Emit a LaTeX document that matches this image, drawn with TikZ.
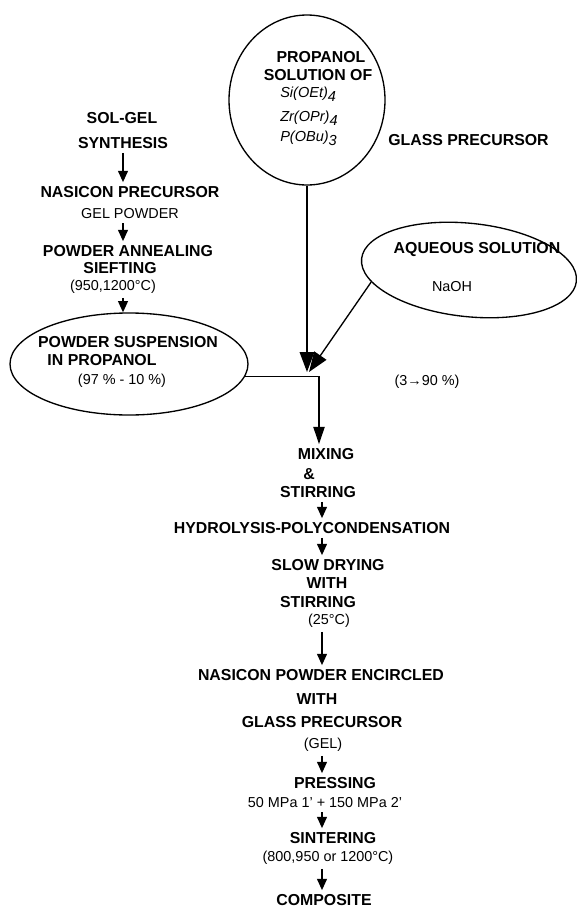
\documentclass[tikz,border=0pt]{standalone}
\usepackage{fontspec}
\setmainfont{Liberation Sans}
\usetikzlibrary{arrows.meta, shapes.geometric, positioning}

\newcommand\chemidx[1]{\raisebox{-3.5pt}{#1}}

\tikzset{
    boldtxt/.style={font=\bfseries\fontsize{11.9}{14}\selectfont, inner sep=3pt},
    thintxt/.style={font=\fontsize{10.8}{13}\selectfont, inner sep=3pt},
    chem/.style={font=\itshape\fontsize{10.9}{13}\selectfont, inner sep=0pt, anchor=base west},
    blob/.style={draw, ellipse, line width=1pt, inner sep=0pt},
    arr/.style={line width=1pt, -{Triangle[length=8.5pt, width=7.5pt]}},
    midarr/.style={line width=1pt, -{Triangle[length=13pt, width=8.5pt]}},
    bigarr/.style={line width=1pt, -{Triangle[length=15pt, width=11pt]}},
}

\begin{document}
\begin{tikzpicture}[x=0.75pt, y=-0.75pt]
        \useasboundingbox (0,0) rectangle (577,907);
        \coordinate (lcol) at (123,0);
        \coordinate (col) at (322,0);
        \coordinate (corner) at (319,376);
        \coordinate (tip) at (309,372);

        % sol-gel route
        \node[boldtxt] (solgel) at (122,118) {SOL-GEL};
        \node[boldtxt] (synth) at (123,143) {SYNTHESIS};
        \node[boldtxt] (nasp) at (130,192) {NASICON PRECURSOR};
        \node[thintxt] (gelp) at (130,214) {GEL POWDER};
        \node[boldtxt] (anneal) at (128,251) {POWDER ANNEALING};
        \node[boldtxt] (sieft) at (120,268) {SIEFTING};
        \node[thintxt] (tanneal) at (113,287) {(950,1200°C)};
        \node[blob, minimum width=178.5pt, minimum height=76.5pt] (susp) at (129,364) {};
        \node[boldtxt] (suspa) at (128,342) {POWDER SUSPENSION};
        \node[boldtxt] (suspb) at (102,360) {IN PROPANOL};
        \node[thintxt] (suspc) at (122,381) {(97 \% - 10 \%)};

        % glass precursor
        \node[blob, minimum width=117pt, minimum height=127.5pt] (prop) at (307,100) {};
        \node[boldtxt] (propa) at (321,57) {PROPANOL};
        \node[boldtxt] (propb) at (318,75) {SOLUTION OF};
        \node[chem] (si) at (280,97) {Si(OEt)\chemidx{4}};
        \node[chem] (zr) at (280,121) {Zr(OPr)\chemidx{4}};
        \node[chem] (pb) at (280,141) {P(OBu)\chemidx{3}};
        \node[boldtxt, anchor=west, inner sep=0pt] (glass) at (388,140) {GLASS PRECURSOR};

        % aqueous solution
        \node[blob, rotate=-6, minimum width=162pt, minimum height=70pt] (aq) at (469,270) {};
        \node[boldtxt] (aqa) at (477,250) {AQUEOUS SOLUTION};
        \node[thintxt] (aqb) at (452,287) {NaOH};
        \node[thintxt] (ratio) at (427,382) {(3→90 \%)};

        % main line
        \node[boldtxt] (mix) at (326,454) {MIXING};
        \node[boldtxt] (amp) at (309,474) {\&};
        \node[boldtxt] (stir) at (318,492) {STIRRING};
        \node[boldtxt] (hydro) at (312,528) {HYDROLYSIS-POLYCONDENSATION};
        \node[boldtxt] (slow) at (328,565) {SLOW DRYING};
        \node[boldtxt] (with) at (327,583) {WITH};
        \node[boldtxt] (stirb) at (318,602) {STIRRING};
        \node[thintxt] (tdry) at (329,621) {(25°C)};
        \node[boldtxt] (encl) at (321,675) {NASICON POWDER ENCIRCLED};
        \node[boldtxt] (withb) at (317,699) {WITH};
        \node[boldtxt] (glassb) at (322,722) {GLASS PRECURSOR};
        \node[thintxt] (gel) at (323,745) {(GEL)};
        \node[boldtxt] (press) at (335,783) {PRESSING};
        \node[thintxt] (mpa) at (325,803) {50 MPa 1' + 150 MPa 2'};
        \node[boldtxt] (sinter) at (333,838) {SINTERING};
        \node[thintxt] (tsinter) at (328,858) {(800,950 or 1200°C)};
        \node[boldtxt] (compo) at (324,900) {COMPOSITE};

        % arrows
        \draw[arr] (synth.south -| lcol) -- (nasp.north -| lcol);
        \draw[arr] (gelp.south -| lcol) -- (anneal.north -| lcol);
        \draw[arr] (tanneal.south -| lcol) -- (susp.north -| lcol);
        \draw[bigarr] (prop.south) -- (prop.south |- tip);
        \draw[bigarr] (aq.193) -- (tip);
        \draw[midarr] (susp.-6) -| (mix.north -| corner);
        \draw[arr] (stir.south -| col) -- (hydro.north -| col);
        \draw[arr] (hydro.south -| col) -- (slow.north -| col);
        \draw[arr] (tdry.south -| col) -- (encl.north -| col);
        \draw[arr] (gel.south -| col) -- (press.north -| col);
        \draw[arr] (mpa.south -| col) -- (sinter.north -| col);
        \draw[arr] (tsinter.south -| col) -- (compo.north -| col);
\end{tikzpicture}
\end{document}
